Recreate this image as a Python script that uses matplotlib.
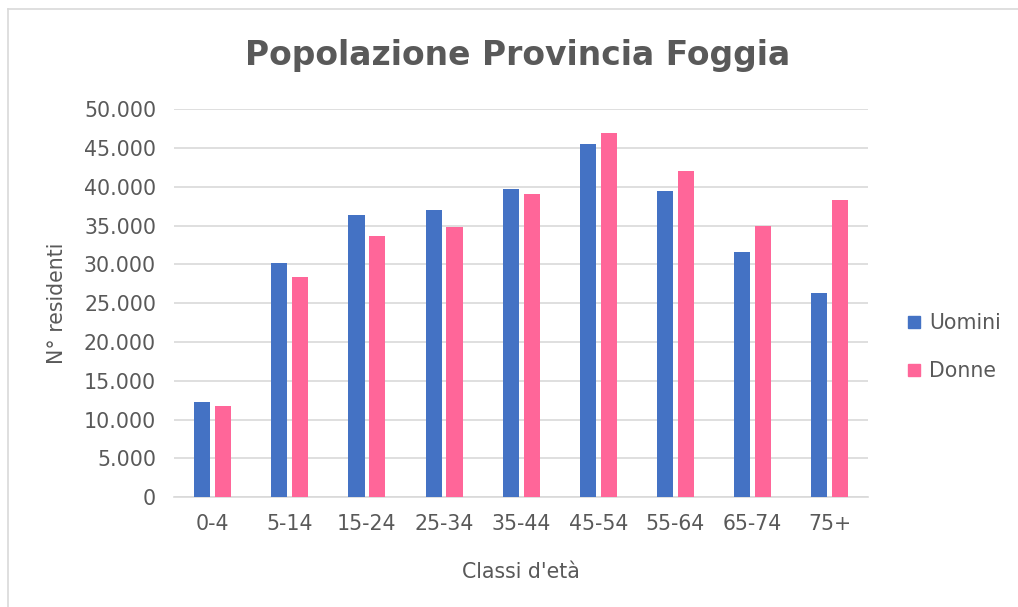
import matplotlib.pyplot as plt
import numpy as np
from matplotlib.ticker import FuncFormatter
from matplotlib.lines import Line2D

# Popolazione residente per classi d'eta
classi = ["0-4", "5-14", "15-24", "25-34", "35-44", "45-54", "55-64", "65-74", "75+"]
uomini = [12300, 30200, 36400, 37000, 39700, 45500, 39500, 31600, 26300]
donne = [11700, 28400, 33700, 34800, 39100, 46900, 42100, 34900, 38300]

BLU = "#4472C4"
ROSA = "#FF6699"
GRIGIO = "#595959"
GRIGLIA = "#D9D9D9"

plt.rcParams["font.family"] = ["DejaVu Sans"]

fig = plt.figure(figsize=(10.18, 6.07), dpi=100)
ax = fig.add_axes([0.171, 0.181, 0.682, 0.639])

x = np.arange(len(classi))
w = 0.21
ax.bar(x - 0.135, uomini, w, color=BLU, label="Uomini", zorder=3)
ax.bar(x + 0.135, donne, w, color=ROSA, label="Donne", zorder=3)

ax.set_xlim(-0.5, len(classi) - 0.5)
ax.set_ylim(0, 50000)
ax.set_yticks(np.arange(0, 50001, 5000))
ax.yaxis.set_major_formatter(FuncFormatter(lambda v, p: f"{int(v):,}".replace(",", ".")))
ax.set_xticks(x)
ax.set_xticklabels(classi)
ax.grid(axis="y", color=GRIGLIA, linewidth=1.2, zorder=0)
for s in ["top", "right", "left"]:
    ax.spines[s].set_visible(False)
ax.spines["bottom"].set_color(GRIGLIA)
ax.spines["bottom"].set_linewidth(1.2)
ax.tick_params(length=0, labelsize=14.8, labelcolor=GRIGIO)
ax.tick_params(axis="y", pad=13)
ax.tick_params(axis="x", pad=12)

ax.set_xlabel("Classi d'età", fontsize=14.8, color=GRIGIO, labelpad=20)
ax.set_ylabel("N° residenti", fontsize=14.8, color=GRIGIO, labelpad=12)
fig.text(0.508, 0.909, "Popolazione Provincia Foggia", ha="center", va="center",
         fontsize=23.8, fontweight="bold", color=GRIGIO)

handles = [Line2D([], [], marker="s", linestyle="none", markersize=9, color=BLU),
           Line2D([], [], marker="s", linestyle="none", markersize=9, color=ROSA)]
fig.legend(handles, ["Uomini", "Donne"], loc="center left", bbox_to_anchor=(0.872, 0.428),
           frameon=False, fontsize=14.8, labelcolor=GRIGIO, handlelength=0.8,
           handletextpad=0.3, labelspacing=1.35)

# bordo chiaro dell'area del grafico
fig.add_artist(Line2D([8 / 1018, 1.0], [1 - 9 / 607] * 2, color=GRIGLIA, linewidth=1.2))
fig.add_artist(Line2D([8 / 1018] * 2, [0.0, 1 - 9 / 607], color=GRIGLIA, linewidth=1.2))

fig.savefig("out.png", dpi=100, facecolor="white")
